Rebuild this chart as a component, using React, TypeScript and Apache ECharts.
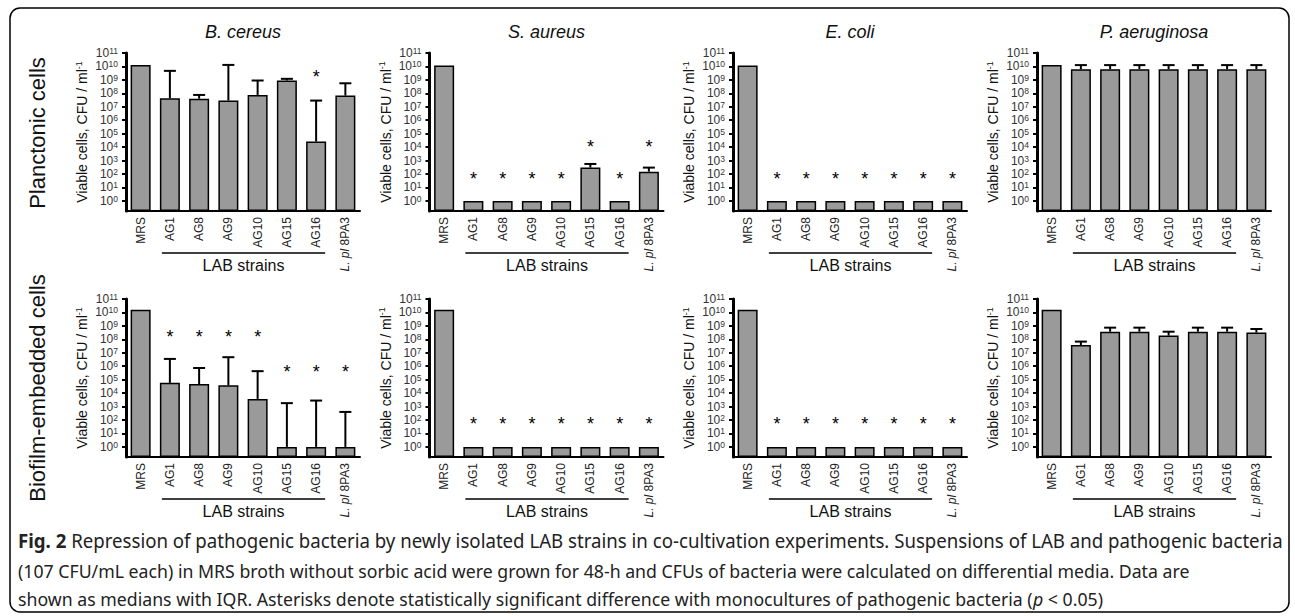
import React, { useEffect, useRef } from "react";
import * as echarts from "echarts";

// ---------- data ----------
const categories = ["MRS", "AG1", "AG8", "AG9", "AG10", "AG15", "AG16", "L. pl 8PA3"];
const pathogens = ["B. cereus", "S. aureus", "E. coli", "P. aeruginosa"];
const rowLabels = ["Planctonic cells", "Biofilm-embedded cells"];
const yTickExponents = [0, 1, 2, 3, 4, 5, 6, 7, 8, 9, 10, 11];
const groupLabel = "LAB strains";

// Planktonic cells (CFU/ml): medians, upper quartiles, asterisk heights
const plBcereusMedian = [1.3e10, 4.3e7, 4.0e7, 2.9e7, 7.6e7, 9.0e8, 2.6e4, 6.8e7];
const plBcereusUpper = [null, 4.7e9, 7.6e7, 1.3e10, 9.0e8, 1.2e9, 2.9e7, 5.6e8];
const plBcereusStar = [null, null, null, null, null, null, 3.2e9, null];

const plSaureusMedian = [1.2e10, 1, 1, 1, 1, 3.0e2, 1, 1.5e2];
const plSaureusUpper = [null, null, null, null, null, 5.6e2, null, 3.0e2];
const plSaureusStar = [null, 85, 85, 85, 85, 2.1e4, 85, 2.1e4];

const plEcoliMedian = [1.2e10, 1, 1, 1, 1, 1, 1, 1];
const plEcoliUpper = [null, null, null, null, null, null, null, null];
const plEcoliStar = [null, 85, 85, 85, 85, 85, 85, 85];

const plPaerugMedian = [1.3e10, 6.2e9, 6.2e9, 6.2e9, 6.2e9, 6.2e9, 6.2e9, 6.2e9];
const plPaerugUpper = [null, 1.26e10, 1.26e10, 1.26e10, 1.26e10, 1.26e10, 1.26e10, 1.26e10];
const plPaerugStar = [null, null, null, null, null, null, null, null];

// Biofilm-embedded cells
const bfBcereusMedian = [1.6e10, 5.8e4, 4.8e4, 3.8e4, 3.7e3, 1, 1, 1];
const bfBcereusUpper = [null, 3.5e6, 7.4e5, 4.7e6, 4.3e5, 1.8e3, 2.8e3, 4.0e2];
const bfBcereusStar = [null, 3.2e8, 3.2e8, 3.2e8, 3.2e8, 7.4e5, 7.4e5, 7.4e5];

const bfSaureusMedian = [1.6e10, 1, 1, 1, 1, 1, 1, 1];
const bfSaureusUpper = [null, null, null, null, null, null, null, null];
const bfSaureusStar = [null, 100, 100, 100, 100, 100, 100, 100];

const bfEcoliMedian = [1.6e10, 1, 1, 1, 1, 1, 1, 1];
const bfEcoliUpper = [null, null, null, null, null, null, null, null];
const bfEcoliStar = [null, 100, 100, 100, 100, 100, 100, 100];

const bfPaerugMedian = [1.6e10, 3.8e7, 3.7e8, 3.7e8, 1.9e8, 3.7e8, 3.7e8, 3.2e8];
const bfPaerugUpper = [null, 6.8e7, 7.4e8, 7.4e8, 3.7e8, 7.4e8, 7.4e8, 5.9e8];
const bfPaerugStar = [null, null, null, null, null, null, null, null];

const captionBold = "Fig. 2";
const captionLine1 =
  " Repression of pathogenic bacteria by newly isolated LAB strains in co-cultivation experiments. Suspensions of LAB and pathogenic bacteria";
const captionLine2 =
  "(107 CFU/mL each) in MRS broth without sorbic acid were grown for 48-h and CFUs of bacteria were calculated on differential media. Data are";
const captionLine3 =
  "shown as medians with IQR. Asterisks denote statistically significant difference with monocultures of pathogenic bacteria (";
const captionItalic = "p";
const captionTail = " < 0.05)";

const panels = [
  { median: plBcereusMedian, upper: plBcereusUpper, star: plBcereusStar },
  { median: plSaureusMedian, upper: plSaureusUpper, star: plSaureusStar },
  { median: plEcoliMedian, upper: plEcoliUpper, star: plEcoliStar },
  { median: plPaerugMedian, upper: plPaerugUpper, star: plPaerugStar },
  { median: bfBcereusMedian, upper: bfBcereusUpper, star: bfBcereusStar },
  { median: bfSaureusMedian, upper: bfSaureusUpper, star: bfSaureusStar },
  { median: bfEcoliMedian, upper: bfEcoliUpper, star: bfEcoliStar },
  { median: bfPaerugMedian, upper: bfPaerugUpper, star: bfPaerugStar },
];

// ---------- layout ----------
const OFFSET = 0.75; // axis extends 0.75 decade below 10^0
const toPlot = (v: number) => Math.log10(v) + OFFSET;
const FONT = '"Liberation Sans", Arial, sans-serif';
const CAPFONT = '"Noto Sans", "Liberation Sans", sans-serif';
const CAPSIZE = 19;
const colLeft = [126, 429.5, 733, 1037];
const rowTop = [53, 299];
const GW = 234;
const GH = 158;
const CAP_X = 18;
const CAP_W = 1265;
const CAP_Y = [541, 570, 598];

function measure(text: string, font: string) {
  const c = document.createElement("canvas").getContext("2d");
  if (!c) return text.length * 9;
  c.font = font;
  return c.measureText(text).width;
}

function buildOption() {
  const grid: any[] = [];
  const xAxis: any[] = [];
  const yAxis: any[] = [];
  const series: any[] = [];
  const graphic: any[] = [];

  panels.forEach((p, i) => {
    const row = Math.floor(i / 4);
    const col = i % 4;
    const left = colLeft[col];
    const top = rowTop[row];
    grid.push({ left, top, width: GW, height: GH, containLabel: false });
    xAxis.push({
      type: "category",
      gridIndex: i,
      data: categories,
      axisLine: { lineStyle: { color: "#000", width: 2 } },
      axisTick: { alignWithLabel: true, length: 5, lineStyle: { color: "#000", width: 1.5 } },
      axisLabel: {
        interval: 0,
        rotate: 90,
        margin: 6,
        fontSize: 12,
        fontFamily: FONT,
        color: "#222",
        formatter: (v: string) => (v === "L. pl 8PA3" ? "{i|L. pl} 8PA3" : v),
        rich: { i: { fontStyle: "italic", fontSize: 12, fontFamily: FONT, color: "#222" } },
      },
    });
    const ticks = yTickExponents.map((e) => e + OFFSET);
    yAxis.push({
      type: "value",
      gridIndex: i,
      min: 0,
      max: 11 + OFFSET,
      splitLine: { show: false },
      axisLine: { show: true, lineStyle: { color: "#000", width: 3 } },
      axisTick: { show: true, customValues: ticks, length: 4, lineStyle: { color: "#000", width: 2 } },
      axisLabel: {
        customValues: ticks,
        margin: 8,
        formatter: (v: number) => `{b|10}{s|${Math.round(v - OFFSET)}}`,
        rich: {
          b: { fontSize: 12, fontFamily: FONT, color: "#333", lineHeight: 13 },
          s: { fontSize: 8.5, fontFamily: FONT, color: "#333", verticalAlign: "top", lineHeight: 8 },
        },
      },
      name: "{a|Viable cells, CFU / ml}{s|-1}",
      nameLocation: "middle",
      nameGap: 36,
      nameTextStyle: {
        rich: {
          a: { fontSize: 14, fontFamily: FONT, color: "#111", lineHeight: 16 },
          s: { fontSize: 9, fontFamily: FONT, color: "#111", verticalAlign: "top", lineHeight: 9 },
        },
      },
    });

    series.push({
      type: "bar",
      xAxisIndex: i,
      yAxisIndex: i,
      barWidth: 20,
      data: p.median.map((v) => toPlot(v)),
      itemStyle: { color: "#9a9a9a", borderColor: "#000", borderWidth: 1.5 },
      z: 2,
    });

    const errData: any[] = [];
    p.upper.forEach((u, j) => {
      if (u != null) errData.push([j, toPlot(p.median[j]), toPlot(u)]);
    });
    series.push({
      type: "custom",
      xAxisIndex: i,
      yAxisIndex: i,
      z: 3,
      data: errData,
      encode: { x: 0, y: [1, 2] },
      renderItem: (params: any, api: any) => {
        const x = api.value(0);
        const lo = api.coord([x, api.value(1)]);
        const hi = api.coord([x, api.value(2)]);
        const cap = 6;
        return {
          type: "group",
          children: [
            { type: "line", shape: { x1: lo[0], y1: lo[1], x2: hi[0], y2: hi[1] }, style: { stroke: "#000", lineWidth: 2 } },
            { type: "line", shape: { x1: hi[0] - cap, y1: hi[1], x2: hi[0] + cap, y2: hi[1] }, style: { stroke: "#000", lineWidth: 2 } },
          ],
        };
      },
    });

    const starData: any[] = [];
    p.star.forEach((s, j) => {
      if (s != null) starData.push([j, toPlot(s)]);
    });
    series.push({
      type: "custom",
      xAxisIndex: i,
      yAxisIndex: i,
      z: 4,
      data: starData,
      encode: { x: 0, y: 1 },
      renderItem: (params: any, api: any) => {
        const pt = api.coord([api.value(0), api.value(1)]);
        return {
          type: "text",
          x: pt[0],
          y: pt[1] + 4,
          style: { text: "*", fontSize: 18, fontFamily: FONT, fill: "#000", align: "center", verticalAlign: "middle" },
        };
      },
    });

    // LAB strains bracket line and label
    const cw = GW / categories.length;
    const x1 = left + cw * 1.5 - 8;
    const x2 = left + cw * 6.5 + 9;
    const ly = top + GH + 42;
    graphic.push({ type: "line", shape: { x1, y1: ly, x2, y2: ly }, style: { stroke: "#000", lineWidth: 1.5 } });
    graphic.push({
      type: "text",
      x: (x1 + x2) / 2,
      y: ly + 12,
      style: { text: groupLabel, fontSize: 16, fontFamily: FONT, fill: "#111", align: "center", verticalAlign: "middle" },
    });

    if (row === 0) {
      graphic.push({
        type: "text",
        x: left + GW / 2,
        y: 32,
        style: { text: pathogens[col], fontSize: 18, fontStyle: "italic", fontFamily: FONT, fill: "#111", align: "center", verticalAlign: "middle" },
      });
    }
  });

  // row labels
  rowLabels.forEach((t, r) => {
    graphic.push({
      type: "text",
      x: 37,
      y: r === 0 ? 133 : 388,
      rotation: Math.PI / 2,
      style: { text: t, fontSize: 22, fontFamily: FONT, fill: "#111", align: "center", verticalAlign: "middle" },
    });
  });

  // frame
  graphic.push({
    type: "rect",
    shape: { x: 10, y: 8, width: 1279, height: 604, r: 10 },
    style: { fill: "none", stroke: "#000", lineWidth: 1.5 },
    z: -1,
  });

  // caption: condensed face so the first line spans the frame width
  const regFont = `${CAPSIZE}px ${CAPFONT}`;
  const boldFont = `bold ${CAPSIZE}px ${CAPFONT}`;
  const w1 = measure(captionBold, boldFont) + measure(captionLine1, regFont);
  const sx1 = CAP_W / w1;
  const sx23 = sx1 * 0.95;
  const rich = {
    b: { fontSize: CAPSIZE, fontFamily: CAPFONT, fontWeight: "bold", fill: "#222" },
    i: { fontSize: CAPSIZE, fontFamily: CAPFONT, fontStyle: "italic", fill: "#222" },
  };
  const capTexts = [
    `{b|${captionBold}}${captionLine1}`,
    captionLine2,
    `${captionLine3}{i|${captionItalic}}${captionTail}`,
  ];
  capTexts.forEach((line, k) => {
    graphic.push({
      type: "text",
      x: CAP_X,
      y: CAP_Y[k],
      scaleX: k === 0 ? sx1 : sx23,
      style: {
        text: line,
        fontSize: CAPSIZE,
        fontFamily: CAPFONT,
        fill: "#222",
        align: "left",
        verticalAlign: "middle",
        rich,
      },
    });
  });

  return {
    animation: false,
    backgroundColor: "#fff",
    grid,
    xAxis,
    yAxis,
    series,
    graphic: { elements: graphic },
  };
}

export default function App() {
  const ref = useRef<HTMLDivElement>(null);
  useEffect(() => {
    if (!ref.current) return;
    const chart = echarts.init(ref.current, undefined, { renderer: "svg" });
    chart.setOption(buildOption() as any);
    return () => chart.dispose();
  }, []);
  return <div ref={ref} style={{ position: "fixed", left: 0, top: 0, width: 1295, height: 616 }} />;
}
